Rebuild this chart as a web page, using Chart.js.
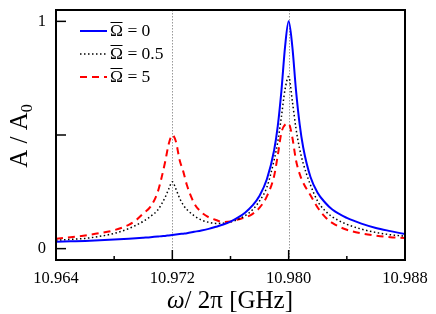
<!DOCTYPE html>
<html>
<head>
<meta charset="utf-8">
<script src="https://cdn.jsdelivr.net/npm/chart.js@4"></script>
<style>
  html, body { margin: 0; padding: 0; background: #fff; }
  #grafico-container { width: 436px; height: 314px; }
</style>
</head>
<body>
<div id="grafico-container"><canvas id="grafico"></canvas></div>
<script>
// frequência ω/2π [GHz]
const freq = [
    10.964, 10.965, 10.966, 10.967, 10.968, 10.969,
    10.9695, 10.970, 10.9705, 10.971,
    10.97125, 10.9715, 10.97175, 10.972,
    10.97225, 10.9725, 10.97275, 10.973,
    10.9735, 10.974, 10.9745, 10.975, 10.9755, 10.976, 10.9765, 10.977, 10.9775, 10.978, 10.9785, 10.979,
    10.97925, 10.9795, 10.97975, 10.980,
    10.98025, 10.9805, 10.98075, 10.981,
    10.9815, 10.982, 10.9825, 10.983,
    10.984, 10.985, 10.986, 10.987, 10.988
];
// A / A0 para cada Ω̄
const ampOmega0 = [
    0.030, 0.032, 0.034, 0.037, 0.040, 0.044,
    0.046, 0.048, 0.050, 0.053,
    0.055, 0.056, 0.058, 0.060,
    0.062, 0.064, 0.066, 0.068,
    0.074, 0.080, 0.087, 0.096, 0.106, 0.119, 0.136, 0.158, 0.189, 0.233, 0.305, 0.433,
    0.539, 0.693, 0.887, 1.000,
    0.890, 0.700, 0.550, 0.445,
    0.315, 0.245, 0.203, 0.172,
    0.135, 0.110, 0.091, 0.077, 0.064
];
const ampOmega05 = [
    0.037, 0.041, 0.045, 0.054, 0.067, 0.088,
    0.103, 0.120, 0.142, 0.170,
    0.195, 0.225, 0.262, 0.294,
    0.262, 0.222, 0.192, 0.172,
    0.145, 0.126, 0.116, 0.111, 0.112, 0.118, 0.128, 0.145, 0.170, 0.210, 0.270, 0.390,
    0.470, 0.580, 0.700, 0.757,
    0.650, 0.530, 0.440, 0.375,
    0.280, 0.208, 0.167, 0.140,
    0.107, 0.086, 0.071, 0.061, 0.055
];
const ampOmega5 = [
    0.043, 0.050, 0.058, 0.068, 0.081, 0.105,
    0.125, 0.155, 0.185, 0.250,
    0.310, 0.380, 0.460, 0.500,
    0.470, 0.390, 0.340, 0.280,
    0.200, 0.160, 0.138, 0.126, 0.117, 0.119, 0.128, 0.137, 0.152, 0.180, 0.230, 0.320,
    0.410, 0.510, 0.545, 0.550,
    0.490, 0.390, 0.330, 0.290,
    0.235, 0.180, 0.140, 0.113,
    0.083, 0.067, 0.057, 0.050, 0.047
];

const legendaOmega = ['0', '0.5', '5'];
const xTickLabels = ['10.964', '10.972', '10.980', '10.988'];
const xMinorTicks = [10.968, 10.976, 10.984];
const yTickLabels = ['0', '1'];
const yMajorTicks = [0, 0.5, 1];
const linhasModo = [10.972, 10.980];

const serif = '"Liberation Serif", "Times New Roman", serif';

const estilos = [
    { cor: '#0000ff', largura: 2, traco: [] },
    { cor: '#000000', largura: 1.5, traco: [1.5, 2.5] },
    { cor: '#ff0000', largura: 2, traco: [7, 5] }
];

function montarPontos(valores) {
    return freq.map((f, i) => ({ x: f, y: valores[i] }));
}

// Desenha moldura, ticks internos, rótulos, títulos e legenda
const decoracao = {
    id: 'decoracao',
    beforeDatasetsDraw(chart) {
        const { ctx, chartArea: a, scales: { x } } = chart;
        ctx.save();
        ctx.strokeStyle = '#999999';
        ctx.lineWidth = 1;
        ctx.setLineDash([1.5, 1.5]);
        linhasModo.forEach(v => {
            const px = Math.round(x.getPixelForValue(v)) + 0.5;
            ctx.beginPath();
            ctx.moveTo(px, a.top);
            ctx.lineTo(px, a.bottom);
            ctx.stroke();
        });
        ctx.restore();
    },
    afterDatasetsDraw(chart) {
        const { ctx, chartArea: a, scales: { x, y } } = chart;
        ctx.save();
        ctx.strokeStyle = '#000';
        ctx.fillStyle = '#000';
        ctx.setLineDash([]);

        // ticks
        ctx.lineWidth = 1.5;
        xTickLabels.forEach(t => {
            const px = x.getPixelForValue(parseFloat(t));
            ctx.beginPath(); ctx.moveTo(px, a.bottom); ctx.lineTo(px, a.bottom - 10); ctx.stroke();
        });
        xMinorTicks.forEach(v => {
            const px = x.getPixelForValue(v);
            ctx.beginPath(); ctx.moveTo(px, a.bottom); ctx.lineTo(px, a.bottom - 4); ctx.stroke();
        });
        yMajorTicks.forEach(v => {
            const py = y.getPixelForValue(v);
            ctx.beginPath(); ctx.moveTo(a.left, py); ctx.lineTo(a.left + 10, py); ctx.stroke();
        });

        // moldura
        ctx.lineWidth = 2;
        ctx.strokeRect(a.left, a.top, a.right - a.left, a.bottom - a.top);

        // rótulos dos ticks
        ctx.font = '16.5px ' + serif;
        ctx.textAlign = 'center';
        ctx.textBaseline = 'alphabetic';
        xTickLabels.forEach(t => {
            ctx.fillText(t, x.getPixelForValue(parseFloat(t)), a.bottom + 23);
        });
        ctx.textAlign = 'right';
        ctx.textBaseline = 'middle';
        yTickLabels.forEach(t => {
            ctx.fillText(t, a.left - 10, y.getPixelForValue(parseFloat(t)));
        });

        // título do eixo x: ω/ 2π [GHz]
        ctx.textBaseline = 'alphabetic';
        ctx.textAlign = 'left';
        const fIt = 'italic 25px ' + serif, fUp = '25px ' + serif;
        ctx.font = fIt; const wOmega = ctx.measureText('ω').width;
        ctx.font = fUp; const wResto = ctx.measureText('/ 2π [GHz]').width;
        let x0 = 230 - (wOmega + wResto) / 2;
        ctx.font = fIt; ctx.fillText('ω', x0, 308);
        ctx.font = fUp; ctx.fillText('/ 2π [GHz]', x0 + wOmega, 308);

        // título do eixo y: A / A0
        ctx.save();
        ctx.translate(27, 136);
        ctx.rotate(-Math.PI / 2);
        ctx.font = '25px ' + serif;
        const wA = ctx.measureText('A / A').width;
        ctx.font = '16px ' + serif;
        const w0 = ctx.measureText('0').width;
        const inicio = -(wA + w0) / 2;
        ctx.font = '25px ' + serif;
        ctx.fillText('A / A', inicio, 0);
        ctx.font = '16px ' + serif;
        ctx.fillText('0', inicio + wA, 5);
        ctx.restore();

        // legenda
        legendaOmega.forEach((v, i) => {
            const yl = 31 + i * 23;
            const e = estilos[i];
            ctx.strokeStyle = e.cor;
            ctx.lineWidth = e.largura;
            ctx.setLineDash(e.traco);
            ctx.beginPath(); ctx.moveTo(80, yl); ctx.lineTo(107, yl); ctx.stroke();
            ctx.setLineDash([]);
            ctx.font = '17.5px ' + serif;
            ctx.fillStyle = '#000';
            ctx.textBaseline = 'alphabetic';
            const base = yl + 4.5;
            const wO = ctx.measureText('Ω').width;
            ctx.fillText('Ω', 110, base);
            ctx.strokeStyle = '#000';
            ctx.lineWidth = 1;
            ctx.beginPath(); ctx.moveTo(110.5, base - 13); ctx.lineTo(110 + wO - 0.5, base - 13); ctx.stroke();
            ctx.fillText(' = ' + v, 110 + wO, base);
        });
        ctx.restore();
    }
};

const canvas = document.getElementById('grafico');
new Chart(canvas.getContext('2d'), {
    type: 'line',
    data: {
        datasets: [ampOmega0, ampOmega05, ampOmega5].map((vals, i) => ({
            label: 'Ω̄ = ' + legendaOmega[i],
            data: montarPontos(vals),
            borderColor: estilos[i].cor,
            borderWidth: estilos[i].largura,
            borderDash: estilos[i].traco,
            fill: false,
            pointRadius: 0,
            cubicInterpolationMode: 'monotone'
        }))
    },
    options: {
        responsive: true,
        maintainAspectRatio: false,
        animation: false,
        layout: { padding: { left: 56, right: 31, top: 10, bottom: 54 } },
        plugins: { legend: { display: false }, tooltip: { enabled: false } },
        scales: {
            x: { type: 'linear', min: 10.964, max: 10.988, display: false },
            y: { min: -0.05, max: 1.05, display: false }
        }
    },
    plugins: [decoracao]
});
</script>
</body>
</html>
